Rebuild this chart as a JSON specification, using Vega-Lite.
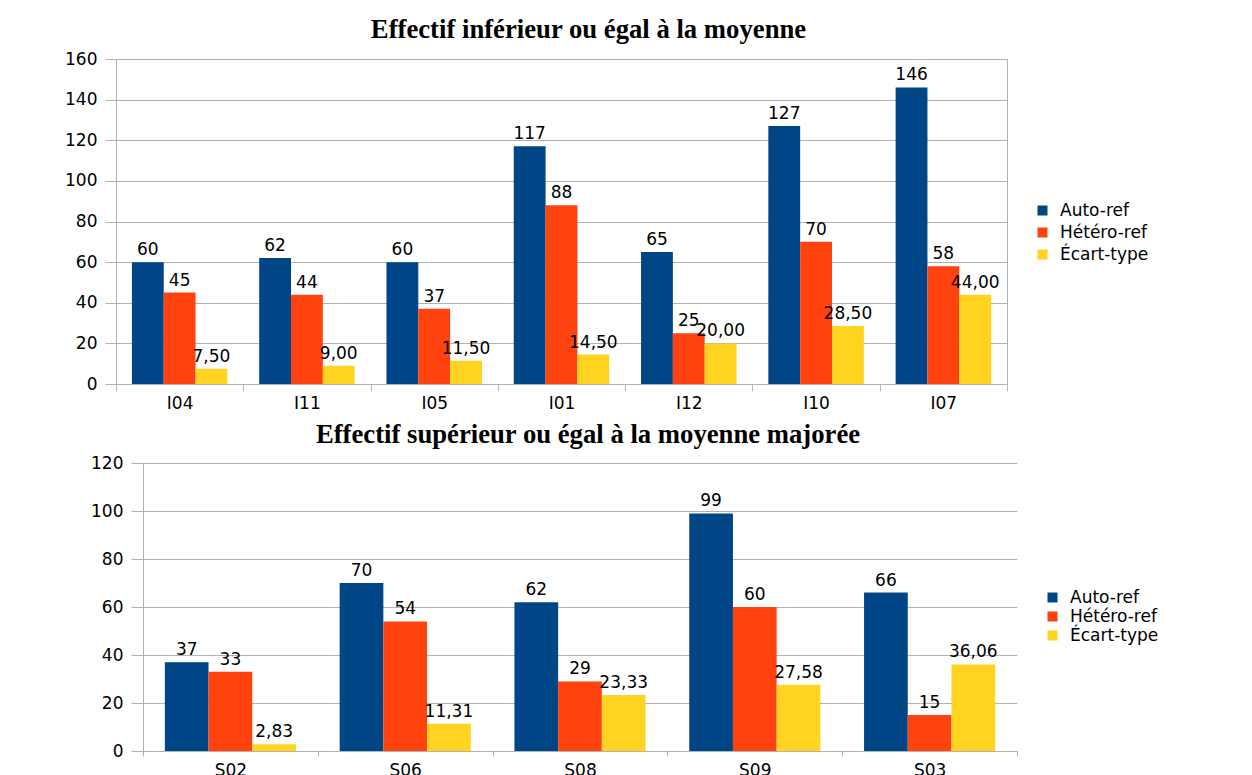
{
  "$schema": "https://vega.github.io/schema/vega-lite/v6.json",
  "background": "white",
  "padding": {"left": 64, "top": 16, "right": 0, "bottom": 0},
  "config": {
    "locale": {"number": {"decimal": ",", "thousands": " ", "grouping": [3], "currency": ["", " €"]}},
    "font": "DejaVu Sans",
    "view": {"stroke": "#b3b3b3", "strokeWidth": 1},
    "axis": {"labelFont": "DejaVu Sans", "labelFontSize": 17, "labelColor": "#000000", "domainColor": "#b3b3b3", "tickColor": "#b3b3b3", "gridColor": "#b3b3b3"},
    "title": {"font": "Liberation Serif", "fontSize": 26.7, "fontWeight": "bold", "color": "#000000", "anchor": "middle", "baseline": "alphabetic"},
    "legend": {"orient": "none", "padding": 0, "symbolType": "square", "symbolSize": 100, "symbolStrokeWidth": 0, "labelFont": "DejaVu Sans", "labelFontSize": 17, "labelColor": "#000000", "labelOffset": 9, "title": null}
  },
  "datasets": {
    "top": [
      {"cat": "I04", "serie": "Auto-ref", "v": 60}, {"cat": "I04", "serie": "Hétéro-ref", "v": 45}, {"cat": "I04", "serie": "Écart-type", "v": 7.5},
      {"cat": "I11", "serie": "Auto-ref", "v": 62}, {"cat": "I11", "serie": "Hétéro-ref", "v": 44}, {"cat": "I11", "serie": "Écart-type", "v": 9},
      {"cat": "I05", "serie": "Auto-ref", "v": 60}, {"cat": "I05", "serie": "Hétéro-ref", "v": 37}, {"cat": "I05", "serie": "Écart-type", "v": 11.5},
      {"cat": "I01", "serie": "Auto-ref", "v": 117}, {"cat": "I01", "serie": "Hétéro-ref", "v": 88}, {"cat": "I01", "serie": "Écart-type", "v": 14.5},
      {"cat": "I12", "serie": "Auto-ref", "v": 65}, {"cat": "I12", "serie": "Hétéro-ref", "v": 25}, {"cat": "I12", "serie": "Écart-type", "v": 20},
      {"cat": "I10", "serie": "Auto-ref", "v": 127}, {"cat": "I10", "serie": "Hétéro-ref", "v": 70}, {"cat": "I10", "serie": "Écart-type", "v": 28.5},
      {"cat": "I07", "serie": "Auto-ref", "v": 146}, {"cat": "I07", "serie": "Hétéro-ref", "v": 58}, {"cat": "I07", "serie": "Écart-type", "v": 44}
    ],
    "bottom": [
      {"cat": "S02", "serie": "Auto-ref", "v": 37}, {"cat": "S02", "serie": "Hétéro-ref", "v": 33}, {"cat": "S02", "serie": "Écart-type", "v": 2.83},
      {"cat": "S06", "serie": "Auto-ref", "v": 70}, {"cat": "S06", "serie": "Hétéro-ref", "v": 54}, {"cat": "S06", "serie": "Écart-type", "v": 11.31},
      {"cat": "S08", "serie": "Auto-ref", "v": 62}, {"cat": "S08", "serie": "Hétéro-ref", "v": 29}, {"cat": "S08", "serie": "Écart-type", "v": 23.33},
      {"cat": "S09", "serie": "Auto-ref", "v": 99}, {"cat": "S09", "serie": "Hétéro-ref", "v": 60}, {"cat": "S09", "serie": "Écart-type", "v": 27.58},
      {"cat": "S03", "serie": "Auto-ref", "v": 66}, {"cat": "S03", "serie": "Hétéro-ref", "v": 15}, {"cat": "S03", "serie": "Écart-type", "v": 36.06}
    ]
  },
  "resolve": {"scale": {"color": "independent", "xOffset": "independent"}, "legend": {"color": "independent"}},
  "spacing": 10,
  "vconcat": [
    {
      "title": {"text": "Effectif inférieur ou égal à la moyenne", "dx": 27, "offset": 6},
      "width": 891,
      "height": 325,
      "data": {"name": "top"},
      "encoding": {
        "x": {"field": "cat", "type": "nominal", "sort": null, "scale": {"paddingInner": 0, "paddingOuter": 0}, "axis": {"title": null, "tickBand": "extent", "tickSize": 7, "labelPadding": 4, "labelAngle": 0, "grid": false}},
        "xOffset": {"field": "serie", "type": "nominal", "sort": ["Auto-ref", "Hétéro-ref", "Écart-type"], "scale": {"paddingInner": 0, "paddingOuter": 0.5}},
        "y": {"field": "v", "type": "quantitative", "scale": {"domain": [0, 160]}, "axis": {"title": null, "values": [0, 20, 40, 60, 80, 100, 120, 140, 160], "tickSize": 11, "labelPadding": 8, "grid": true}}
      },
      "layer": [
        {
          "mark": {"type": "bar"},
          "encoding": {
            "color": {"field": "serie", "type": "nominal", "sort": ["Auto-ref", "Hétéro-ref", "Écart-type"], "scale": {"domain": ["Auto-ref", "Hétéro-ref", "Écart-type"], "range": ["#004586", "#ff420e", "#ffd320"]}, "legend": {"legendX": 918, "legendY": 143, "rowPadding": 4}}
          }
        },
        {
          "transform": [{"filter": "datum.serie !== 'Écart-type'"}],
          "mark": {"type": "text", "baseline": "alphabetic", "dy": -7, "fontSize": 17, "font": "DejaVu Sans", "color": "#000000"},
          "encoding": {"text": {"field": "v", "type": "quantitative", "format": "d"}}
        },
        {
          "transform": [{"filter": "datum.serie === 'Écart-type'"}],
          "mark": {"type": "text", "baseline": "alphabetic", "dy": -7, "fontSize": 17, "font": "DejaVu Sans", "color": "#000000"},
          "encoding": {"text": {"field": "v", "type": "quantitative", "format": ".2f"}}
        }
      ]
    },
    {
      "title": {"text": "Effectif supérieur ou égal à la moyenne majorée", "dx": 21.5, "offset": 5},
      "width": 901,
      "height": 288,
      "view": {"stroke": null},
      "data": {"name": "bottom"},
      "encoding": {
        "x": {"field": "cat", "type": "nominal", "sort": null, "scale": {"paddingInner": 0, "paddingOuter": 0, "range": [27, 901]}, "axis": {"title": null, "tickBand": "extent", "tickSize": 5, "labelPadding": 6, "labelAngle": 0, "grid": false}},
        "y": {"field": "v", "type": "quantitative", "scale": {"domain": [0, 120]}, "axis": {"title": null, "offset": -27, "values": [0, 20, 40, 60, 80, 100, 120], "tickSize": 12, "labelPadding": 8, "grid": true}}
      },
      "layer": [
        {
          "mark": {"type": "bar"},
          "encoding": {
            "xOffset": {"field": "serie", "type": "nominal", "sort": ["Auto-ref", "Hétéro-ref", "Écart-type"], "scale": {"paddingInner": 0, "paddingOuter": 0.5}},
            "color": {"field": "serie", "type": "nominal", "sort": ["Auto-ref", "Hétéro-ref", "Écart-type"], "scale": {"domain": ["Auto-ref", "Hétéro-ref", "Écart-type"], "range": ["#004586", "#ff420e", "#ffd320"]}, "legend": {"legendX": 928, "legendY": 126, "rowPadding": 1}}
          }
        },
        {
          "transform": [{"filter": "datum.serie !== 'Écart-type'"}],
          "mark": {"type": "text", "baseline": "alphabetic", "dy": -7, "fontSize": 17, "font": "DejaVu Sans", "color": "#000000"},
          "encoding": {
            "xOffset": {"field": "serie", "type": "nominal", "sort": ["Auto-ref", "Hétéro-ref", "Écart-type"]},
            "text": {"field": "v", "type": "quantitative", "format": "d"}
          }
        },
        {
          "transform": [{"filter": "datum.serie === 'Écart-type'"}],
          "mark": {"type": "text", "baseline": "alphabetic", "dy": -7, "fontSize": 17, "font": "DejaVu Sans", "color": "#000000"},
          "encoding": {
            "xOffset": {"field": "serie", "type": "nominal", "sort": ["Auto-ref", "Hétéro-ref", "Écart-type"]},
            "text": {"field": "v", "type": "quantitative", "format": ".2f"}
          }
        },
        {
          "data": {"values": [{"edge": "S03"}]},
          "mark": {"type": "rule", "color": "#b3b3b3", "strokeWidth": 1},
          "encoding": {
            "x": {"field": "edge", "type": "nominal", "bandPosition": 1},
            "y": {"datum": 0},
            "y2": {"datum": 120}
          }
        }
      ]
    }
  ]
}
